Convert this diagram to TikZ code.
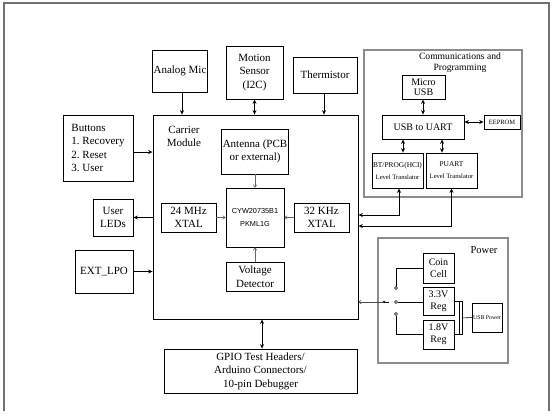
\documentclass[tikz,border=0pt]{standalone}
\usepackage{fontspec}
\setmainfont{Liberation Serif}
\newfontfamily\chipfont{Liberation Sans}
\usetikzlibrary{arrows.meta}
\frenchspacing

\begin{document}
\begin{tikzpicture}[x=1pt,y=-1pt,line width=0.8pt,
  blk/.style={draw=black,align=center,inner sep=1pt,font=\fontsize{11}{13.5}\selectfont},
  cblk/.style={blk,font=\fontsize{10}{10.5}\selectfont},
  pblk/.style={blk,font=\fontsize{10}{12}\selectfont},
  grp/.style={draw=black!45,line width=1.3pt},
  arr/.style={-{Stealth[length=4.5pt,width=4pt]},black},
  darr/.style={{Stealth[length=4.5pt,width=4pt]}-{Stealth[length=4.5pt,width=4pt]},black},
  iarr/.style={-{To[length=3pt,width=4pt]},black!60,line width=0.6pt}]
  \useasboundingbox (0,0) rectangle (554,415);
  % outer frame
  \draw[draw=black!55,line width=1.6pt] (4,411) -- (4,3) -- (549,3) -- (549,411);

  % carrier module
  \node[draw=black,minimum width=205pt,minimum height=204pt] (carrier) at (255.5,217) {};
  \node[font=\fontsize{11}{13}\selectfont,align=center] (carlbl) at (184,136) {Carrier\\Module};
  \node[blk,minimum width=66pt,minimum height=45pt] (antenna) at (255,151.5) {Antenna (PCB\\or external)};
  \node[blk,minimum width=58pt,minimum height=59pt,font=\chipfont\fontsize{7.3}{13}\selectfont] (chip) at (255,217.5) {CYW20735B1\\PKML1G};
  \node[blk,minimum width=55pt,minimum height=29pt] (x24) at (188.5,217.5) {24 MHz\\XTAL};
  \node[blk,minimum width=55pt,minimum height=29pt] (x32) at (321.5,217.5) {32 KHz\\XTAL};
  \node[blk,minimum width=58pt,minimum height=29pt] (vdet) at (255,276.5) {Voltage\\Detector};
  \draw[iarr] (antenna) -- (chip);
  \draw[iarr] (x24) -- (chip);
  \draw[iarr] (x32) -- (chip);
  \draw[iarr] (vdet) -- (chip);

  % top row
  \node[blk,minimum width=54pt,minimum height=42pt] (mic) at (180,71) {Analog Mic};
  \node[blk,minimum width=57pt,minimum height=53pt] (motion) at (254.5,72.5) {Motion\\Sensor\\(I2C)};
  \node[blk,minimum width=64pt,minimum height=36pt] (therm) at (325,75) {Thermistor};
  \draw[arr] ([xshift=2pt]mic.south) -- ([xshift=2pt]mic.south |- carrier.north);
  \draw[darr] (motion.south) -- (motion.south |- carrier.north);
  \draw[arr] ([xshift=-1pt]therm.south) -- ([xshift=-1pt]therm.south |- carrier.north);

  % left column
  \node[blk,align=left,minimum width=70pt,minimum height=66pt] (buttons) at (98,148) {Buttons\\1. Recovery\\2. Reset\\3. User};
  \node[blk,minimum width=40pt,minimum height=37pt] (leds) at (113,217.5) {User\\LEDs};
  \node[blk,minimum width=58pt,minimum height=43pt] (lpo) at (104,271.5) {EXT\_LPO};
  \draw[arr] ([yshift=-4pt]buttons.east) -- ([yshift=-4pt]buttons.east -| carrier.west);
  \draw[arr] (leds.east -| carrier.west) -- (leds.east);
  \draw[arr] (lpo.east) -- (lpo.east -| carrier.west);

  % bottom
  \node[blk,minimum width=193pt,minimum height=44pt] (gpio) at (260.5,371) {GPIO Test Headers/\\Arduino Connectors/\\10-pin Debugger};
  \draw[darr] ([xshift=1.5pt]gpio.north) -- ([xshift=1.5pt]gpio.north |- carrier.south);

  % communications and programming
  \node[grp,minimum width=158pt,minimum height=147pt] (comms) at (443,123.5) {};
  \node[font=\fontsize{9.6}{11}\selectfont,align=center] (commlbl) at (460,63) {Communications and\\Programming};
  \node[cblk,minimum width=43pt,minimum height=24pt] (musb) at (423.5,87) {Micro\\USB};
  \node[cblk,minimum width=82pt,minimum height=24pt] (uart) at (423,127) {USB to UART};
  \node[blk,minimum width=36pt,minimum height=14pt,font=\fontsize{6.5}{7}\selectfont] (eeprom) at (502,122) {EEPROM};
  \node[blk,minimum width=51pt,minimum height=35pt,font=\fontsize{7.4}{12}\selectfont] (bt) at (397.5,170.5) {BT/PROG(HCI)\\{\fontsize{6.6}{8}\selectfont Level Translator}};
  \node[blk,minimum width=51pt,minimum height=35pt,font=\fontsize{7.4}{12}\selectfont] (puart) at (451.5,170.5) {PUART\\{\fontsize{6.6}{8}\selectfont Level Translator}};
  \draw[darr] (musb.south -| uart.north) -- (uart.north);
  \draw[darr] (eeprom.west) -- (eeprom.west -| uart.east);
  \draw[darr] ([xshift=5.5pt]bt.north) -- ([xshift=5.5pt]bt.north |- uart.south);
  \draw[darr] ([xshift=-9.5pt]puart.north) -- ([xshift=-9.5pt]puart.north |- uart.south);
  \draw[darr] ([xshift=1.5pt]bt.south) |- (carrier.east |- 0,215);
  \draw[darr] (puart.south) |- (carrier.east |- 0,226);

  % power
  \node[grp,minimum width=130pt,minimum height=125pt] (power) at (443,300.5) {};
  \node[font=\fontsize{10.5}{12}\selectfont] (powlbl) at (484,250) {Power};
  \node[pblk,minimum width=31pt,minimum height=30pt] (coin) at (438.5,268) {Coin\\Cell};
  \node[pblk,minimum width=31pt,minimum height=28pt] (v33) at (438.5,301) {3.3V\\Reg};
  \node[pblk,minimum width=31pt,minimum height=29pt] (v18) at (438.5,334.5) {1.8V\\Reg};
  \node[blk,minimum width=30pt,minimum height=29pt,font=\fontsize{5.8}{7}\selectfont] (usbp) at (487,317.5) {USB Power};
  \coordinate (swc) at (384,302);
  \coordinate (swa) at (396,288);
  \coordinate (swb) at (396,302);
  \coordinate (swd) at (396,314);
  \draw[line width=0.6pt] (swa) ++(0,-1.5) |- (coin.west);
  \draw[line width=0.6pt] (swd) ++(0,1.5) |- (v18.west);
  \draw[line width=0.6pt] (swb) ++(1.5,0) -- (swb -| v33.west);
  \foreach \c in {swa,swb,swd}{
    \draw[line width=0.5pt,fill=white] (\c) circle (1.5);}
  \fill (swc) circle (1.4);
  \draw[line width=0.6pt] (swc) -- ++(5,0);
  \draw[-{To[length=3pt,width=4pt]},line width=0.6pt,black!70] (swc) -- (swc -| carrier.east);
  \draw[line width=0.6pt] (v33.east) -| (462,334.5) -- (v18.east);
  \draw[line width=0.6pt] (459,301) -- (459,334.5);
  \draw[line width=0.6pt] (462,318) -- (usbp.west);
\end{tikzpicture}
\end{document}
